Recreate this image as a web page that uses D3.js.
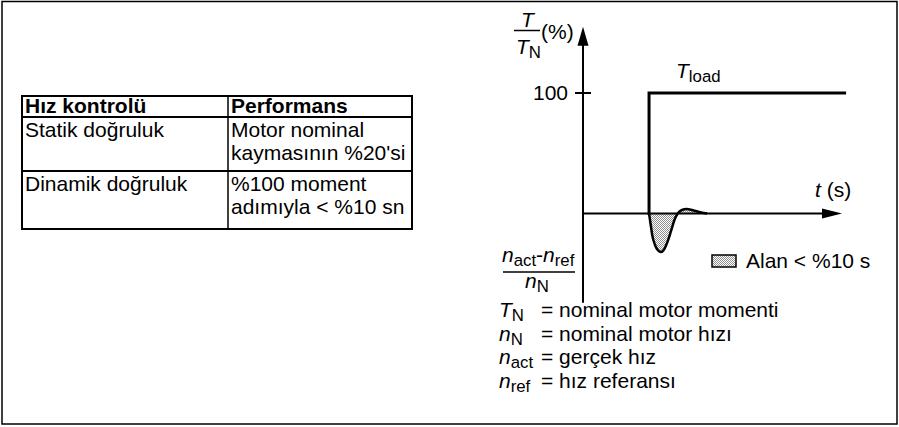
<!DOCTYPE html>
<html>
<head>
<meta charset="utf-8">
<script src="https://cdn.jsdelivr.net/npm/d3@7"></script>
<style>
  body { margin: 0; background: #fff; }
  svg { display: block; }
  text { font-family: "Liberation Sans", Arial, sans-serif; fill: #000; }
</style>
</head>
<body>
<svg id="chart" width="899" height="427"></svg>
<script>
// ---- Performance table ----
const tableHeader = ["Hız kontrolü", "Performans"];
const rowLabels = ["Statik doğruluk", "Dinamik doğruluk"];
const rowValues = [
  ["Motor nominal", "kaymasının %20'si"],
  ["%100 moment", "adımıyla < %10 sn"]
];

// ---- Step response: load torque step and speed error ----
const torqueTicks = [100];
const loadTime = [25.5, 25.5, 101];
const loadTorque = [0, 100, 100];
const speedTime  = [25.5, 26.1, 26.8, 27.8, 29.0, 30.1, 31.3, 32.6, 34.0, 35.3, 36.7, 38.2, 40.0, 42.1, 44.8, 47.9];
const speedError = [0, -8.7, -18.7, -26.1, -30.7, -32.0, -29.9, -23.7, -14.5, -5.4, 0.4, 2.9, 3.7, 2.9, 1.2, 0];

// ---- Symbol definitions ----
const defSymbols = [["T", "N"], ["n", "N"], ["n", "act"], ["n", "ref"]];
const defTexts = ["= nominal motor momenti", "= nominal motor hızı", "= gerçek hız", "= hız referansı"];

const svg = d3.select("#chart");
const FS = 21;

// outer frame
svg.append("rect")
  .attr("x", 2).attr("y", 1.5).attr("width", 895).attr("height", 422.5)
  .attr("fill", "none").attr("stroke", "#000").attr("stroke-width", 1.5);

// stipple fill used for the area under the speed error
const defs = svg.append("defs");
const pat = defs.append("pattern").attr("id", "stipple")
  .attr("width", 2).attr("height", 2).attr("patternUnits", "userSpaceOnUse");
pat.append("rect").attr("width", 2).attr("height", 2).attr("fill", "#fff");
pat.append("rect").attr("x", 0).attr("y", 0).attr("width", 1).attr("height", 1).attr("fill", "#909090");
pat.append("rect").attr("x", 1).attr("y", 1).attr("width", 1).attr("height", 1).attr("fill", "#909090");

// ---- table ----
const colX = [22, 228, 412];
const rowY = [96, 117, 171, 229];
const tbl = svg.append("g");
tbl.append("rect").attr("x", colX[0]).attr("y", rowY[0])
  .attr("width", colX[2] - colX[0]).attr("height", rowY[3] - rowY[0])
  .attr("fill", "none").attr("stroke", "#000").attr("stroke-width", 2);
rowY.slice(1, 3).forEach(y => tbl.append("line")
  .attr("x1", colX[0]).attr("x2", colX[2]).attr("y1", y).attr("y2", y)
  .attr("stroke", "#000").attr("stroke-width", 2));
tbl.append("line").attr("x1", colX[1]).attr("x2", colX[1])
  .attr("y1", rowY[0]).attr("y2", rowY[3]).attr("stroke", "#000").attr("stroke-width", 1.5);

tableHeader.forEach((h, i) => tbl.append("text")
  .attr("x", colX[i] + 3).attr("y", rowY[1] - 4)
  .attr("font-size", FS).attr("font-weight", "bold").text(h));
rowLabels.forEach((lab, r) => {
  const top = rowY[r + 1];
  tbl.append("text").attr("x", colX[0] + 3).attr("y", top + 20)
    .attr("font-size", FS).text(lab);
  rowValues[r].forEach((line, k) => tbl.append("text")
    .attr("x", colX[1] + 3).attr("y", top + 20 + k * 23)
    .attr("font-size", FS).text(line));
});

// ---- scales ----
const x = d3.scaleLinear().domain([0, 100]).range([583, 842]);
const y = d3.scaleLinear().domain([0, 100]).range([213.5, 93]);

const g = svg.append("g");

// area between speed error and time axis
const pts = speedTime.map((t, i) => ({ t, v: speedError[i] }));
g.append("path").datum(pts)
  .attr("d", d3.area().x(d => x(d.t)).y0(y(0)).y1(d => y(d.v)).curve(d3.curveMonotoneX))
  .attr("fill", "url(#stipple)");

// time axis with arrow
const tAxis = g.append("g").attr("transform", `translate(0,${y(0)})`)
  .call(d3.axisBottom(x).tickValues([]).tickSizeOuter(0));
tAxis.select(".domain").attr("stroke", "#000").attr("stroke-width", 2)
  .attr("d", `M${x(0)},0H${x(100) - 14}`);
g.append("path")
  .attr("d", `M${x(100) - 20},${y(0) - 5}L${x(100)},${y(0)}L${x(100) - 20},${y(0) + 5}Z`)
  .attr("fill", "#000");

// torque / speed vertical axis with arrow
const yTop = y(155), yBot = y(-74);
g.append("line").attr("x1", x(0)).attr("x2", x(0)).attr("y1", yTop + 12).attr("y2", yBot)
  .attr("stroke", "#000").attr("stroke-width", 2);
g.append("path")
  .attr("d", `M${x(0) - 5.5},${yTop + 19}L${x(0)},${yTop}L${x(0) + 5.5},${yTop + 19}Z`)
  .attr("fill", "#000");
torqueTicks.forEach(v => {
  g.append("line").attr("x1", x(0) - 8).attr("x2", x(0) + 8).attr("y1", y(v)).attr("y2", y(v))
    .attr("stroke", "#000").attr("stroke-width", 2);
  g.append("text").attr("x", x(0) - 15).attr("y", y(v) + 7)
    .attr("text-anchor", "end").attr("font-size", FS).text(v);
});

// load torque step
const loadPts = loadTime.map((t, i) => ({ t, v: loadTorque[i] }));
g.append("path").datum(loadPts)
  .attr("d", d3.line().x(d => x(d.t)).y(d => y(d.v)))
  .attr("fill", "none").attr("stroke", "#000").attr("stroke-width", 3)
  .attr("stroke-linejoin", "miter").attr("stroke-linecap", "square");

// speed error response
g.append("path").datum(pts)
  .attr("d", d3.line().x(d => x(d.t)).y(d => y(d.v)).curve(d3.curveMonotoneX))
  .attr("fill", "none").attr("stroke", "#000").attr("stroke-width", 2.5);

// text helper: parts are [text, style] with style "i" italic, "s" subscript
function rich(parent, px, py, parts, size) {
  const t = parent.append("text").attr("x", px).attr("y", py).attr("font-size", size);
  let shift = 0;
  parts.forEach(([str, style]) => {
    const sp = t.append("tspan").text(str);
    const want = style === "s" ? 4 : 0;
    if (want !== shift) { sp.attr("dy", want - shift); shift = want; }
    if (style === "i") sp.attr("font-style", "italic");
    if (style === "s") sp.attr("font-size", size * 0.8);
  });
  return t;
}

// T_load label
rich(g, 676, 78, [["T", "i"], ["load", "s"]], FS);

// t (s) label
rich(g, 815, 197, [["t", "i"], [" (s)", ""]], FS);

// T / T_N (%) label
rich(g, 521, 27, [["T", "i"]], FS);
g.append("line").attr("x1", 514).attr("x2", 540).attr("y1", 30.5).attr("y2", 30.5)
  .attr("stroke", "#000").attr("stroke-width", 1.5);
rich(g, 516, 54, [["T", "i"], ["N", "s"]], FS);
g.append("text").attr("x", 541).attr("y", 39).attr("font-size", FS).text("(%)");

// (n_act - n_ref) / n_N label
rich(g, 502, 262, [["n", "i"], ["act", "s"], ["-", ""], ["n", "i"], ["ref", "s"]], FS);
g.append("line").attr("x1", 503).attr("x2", 575).attr("y1", 272).attr("y2", 272)
  .attr("stroke", "#000").attr("stroke-width", 1.5);
rich(g, 525, 288, [["n", "i"], ["N", "s"]], FS);

// legend
g.append("rect").attr("x", 712).attr("y", 255).attr("width", 24).attr("height", 12)
  .attr("fill", "url(#stipple)").attr("stroke", "#000").attr("stroke-width", 1.5);
g.append("text").attr("x", 746).attr("y", 268).attr("font-size", FS).text("Alan < %10 s");

// definitions
defSymbols.forEach(([sym, sub], i) => {
  const by = 317 + i * 23.7;
  rich(g, 499, by, [[sym, "i"], [sub, "s"]], FS);
  g.append("text").attr("x", 541).attr("y", by).attr("font-size", FS).text(defTexts[i]);
});
</script>
</body>
</html>
